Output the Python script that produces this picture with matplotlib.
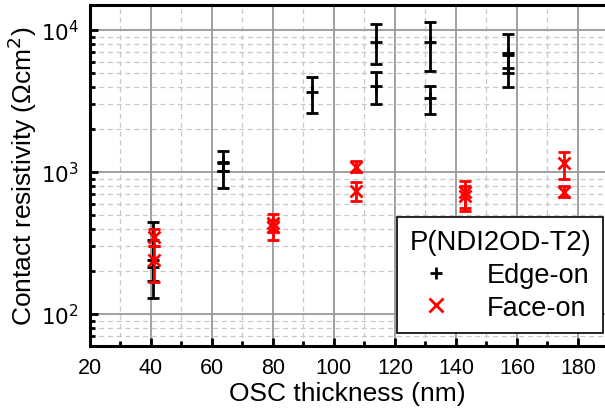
import numpy as np
import matplotlib
matplotlib.use("Agg")
import matplotlib.pyplot as plt
from matplotlib.ticker import MultipleLocator, LogLocator, FixedLocator, NullFormatter
from matplotlib.lines import Line2D

plt.rcParams['font.family'] = ['Liberation Sans', 'DejaVu Sans']

# Edge-on data (thickness, value, lower bound, upper bound)
edge_x = [40.5, 40.5, 63.5, 63.5, 92.8, 113.8, 113.8, 131.5, 131.5, 157.0, 157.0]
edge_y = [240, 215, 1180, 1010, 3650, 8300, 4060, 8300, 3300, 6900, 5400]
edge_lo = [170, 130, 1020, 770, 2600, 5770, 3015, 5165, 2560, 5000, 3950]
edge_hi = [445, 330, 1410, 1160, 4650, 11000, 5040, 11300, 4060, 9400, 6700]

# Face-on data
face_x = [41.0, 41.0, 80.0, 80.0, 107.4, 107.4, 143.0, 143.0, 175.4, 175.4]
face_y = [350, 240, 440, 410, 1080, 740, 720, 680, 1150, 725]
face_lo = [300, 168, 380, 330, 1000, 630, 560, 530, 900, 665]
face_hi = [400, 300, 510, 460, 1200, 855, 870, 800, 1390, 800]

x_ticks = [20, 40, 60, 80, 100, 120, 140, 160, 180]
y_ticks = [1e2, 1e3, 1e4]
y_ticklabels = ['$10^2$', '$10^3$', '$10^4$']

fig = plt.figure(figsize=(6.05, 4.10), dpi=100)
ax = fig.add_axes([90/605, 1 - 347/410, 1 - 90/605, (347 - 6)/410])

ax.set_yscale('log')
ax.set_xlim(20, 188.9)
ax.set_ylim(59.6, 15000)

# grid
ax.grid(which='major', color='#999999', linewidth=1.3, linestyle='-')
ax.grid(which='minor', color='#c8c8c8', linewidth=0.9, linestyle=(0, (4, 3)))
ax.set_axisbelow(True)

def errs(y, lo, hi):
    y = np.array(y, float)
    return np.vstack([y - np.array(lo, float), np.array(hi, float) - y])

ax.errorbar(edge_x, edge_y, yerr=errs(edge_y, edge_lo, edge_hi), fmt='+', color='black',
            ms=9, mew=2, elinewidth=2, capsize=4.5, capthick=2, zorder=3)
ax.errorbar(face_x, face_y, yerr=errs(face_y, face_lo, face_hi), fmt='x', color='red',
            ms=8, mew=2, elinewidth=2, capsize=4.5, capthick=2, zorder=4)

ax.xaxis.set_major_locator(FixedLocator(x_ticks))
ax.xaxis.set_minor_locator(MultipleLocator(10))
ax.set_yticks(y_ticks)
ax.set_yticklabels(y_ticklabels)
ax.yaxis.set_minor_locator(LogLocator(base=10, subs=np.arange(2, 10)))
ax.yaxis.set_minor_formatter(NullFormatter())

ax.tick_params(which='major', direction='in', length=6, width=2, labelsize=15.5, pad=8)
ax.tick_params(which='minor', direction='in', length=3.5, width=2)
ax.tick_params(top=False, right=False, which='both')

for s in ['left', 'bottom', 'top']:
    ax.spines[s].set_linewidth(2.2)
ax.spines['right'].set_visible(False)

ax.set_xlabel('OSC thickness (nm)', fontsize=19, labelpad=2)
ax.set_ylabel('Contact resistivity (Ωcm$^2$)', fontsize=19, labelpad=1)

handles = [Line2D([], [], marker='+', color='black', ls='none', ms=8, mew=2),
           Line2D([], [], marker='x', color='red', ls='none', ms=10, mew=2)]
leg = ax.legend(handles, ['Edge-on', 'Face-on'], title='P(NDI2OD-T2)', loc='lower right',
                bbox_to_anchor=(0.997, 0.038), fontsize=19.5, title_fontsize=19.8,
                fancybox=False, framealpha=1, edgecolor='black', handletextpad=1.0,
                handlelength=1.8, borderpad=0.45, labelspacing=0.25, borderaxespad=0.0)
leg.get_frame().set_linewidth(1.2)

fig.savefig('out.png', dpi=100)
